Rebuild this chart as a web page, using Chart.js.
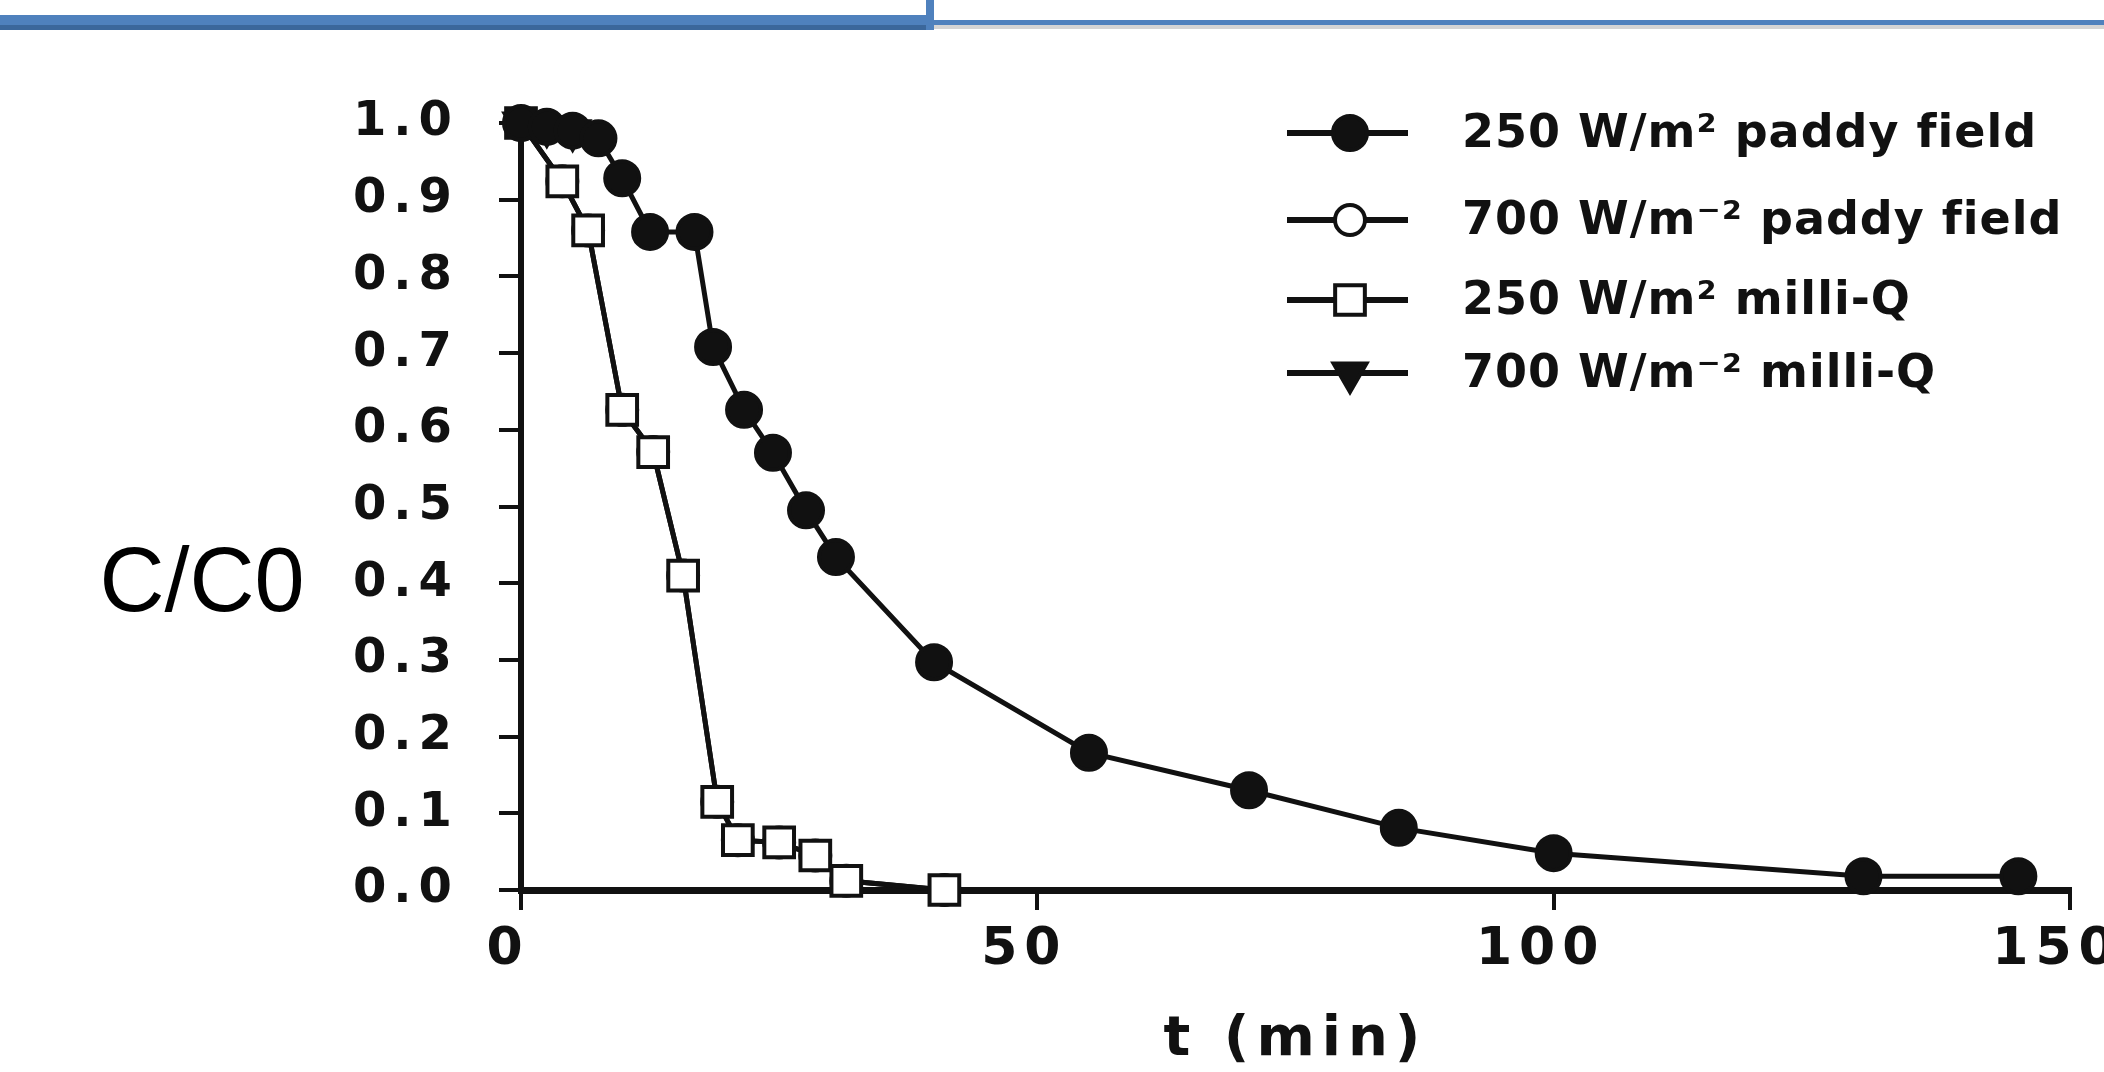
<!DOCTYPE html>
<html>
<head>
<meta charset="utf-8">
<title>C/C0 x t (min)</title>
<script src="https://cdn.jsdelivr.net/npm/chart.js@4.4.1/dist/chart.umd.min.js"></script>
<style>
    html, body { margin: 0; padding: 0; background: #fff; }
    #pagina { position: relative; width: 2104px; height: 1072px; overflow: hidden; background: #fff; }
    #grafico { position: absolute; left: 0; top: 0; }
    .faixa { position: absolute; }
</style>
</head>
<body>
<div id="pagina">
    <div class="faixa" style="left:0;top:15px;width:930px;height:10px;background:#4f81bd;"></div>
    <div class="faixa" style="left:0;top:25px;width:930px;height:5px;background:#3b679b;"></div>
    <div class="faixa" style="left:926px;top:0;width:8px;height:30px;background:#4f81bd;"></div>
    <div class="faixa" style="left:934px;top:20px;width:1170px;height:5px;background:#4f81bd;"></div>
    <div class="faixa" style="left:934px;top:25px;width:1170px;height:4px;background:#d4d4d4;"></div>
    <canvas id="grafico" width="2104" height="1072"></canvas>
</div>
<script>
// tempos (min) e C/C0
const tempoPaddy250 = [0, 2.5, 5, 7.5, 9.8, 12.5, 16.8, 18.6, 21.6, 24.4, 27.6, 30.5, 40, 55, 70.5, 85, 100, 130, 145];
const ccPaddy250 = [1.0, 0.995, 0.99, 0.98, 0.928, 0.858, 0.858, 0.708, 0.626, 0.57, 0.495, 0.434, 0.297, 0.179, 0.13, 0.081, 0.048, 0.018, 0.018];

const tempoPaddy700 = [0, 4, 6.5, 9.8, 12.8, 15.7, 19, 21, 25, 28.5, 31.5, 41];
const ccPaddy700 = [1.0, 0.924, 0.86, 0.626, 0.571, 0.41, 0.115, 0.065, 0.062, 0.045, 0.012, 0.0];

const tempoMilliQ250 = [0, 4, 6.5, 9.8, 12.8, 15.7, 19, 21, 25, 28.5, 31.5, 41];
const ccMilliQ250 = [1.0, 0.924, 0.86, 0.626, 0.571, 0.41, 0.115, 0.065, 0.062, 0.045, 0.012, 0.0];

const tempoMilliQ700 = [0, 2.5, 5];
const ccMilliQ700 = [1.0, 0.995, 0.99];

const rotulos = [
    "250 W/m\u00b2 paddy field",
    "700 W/m\u207b\u00b2 paddy field",
    "250 W/m\u00b2 milli-Q",
    "700 W/m\u207b\u00b2 milli-Q"
];
const ticksX = [0, 50, 100, 150];
const ticksY = [0, 0.1, 0.2, 0.3, 0.4, 0.5, 0.6, 0.7, 0.8, 0.9, 1.0];

const preto = "#111111";
const legendaY = [133, 220, 300, 373];

function pares(tempos, valores) {
    return tempos.map(function (t, i) {
        return { x: t, y: valores[i] };
    });
}

function serie(rotulo, tempos, valores, estilo, raio, fundo, rotacao, ordem) {
    return {
        label: rotulo,
        data: pares(tempos, valores),
        showLine: true,
        tension: 0,
        borderColor: preto,
        borderWidth: 5,
        pointStyle: estilo,
        pointRadius: raio,
        pointRotation: rotacao,
        pointBackgroundColor: fundo,
        pointBorderColor: preto,
        pointBorderWidth: 4,
        clip: false,
        order: ordem
    };
}

// texto dos eixos mais largo, como no original
const espacoLetras = {
    id: "espacoLetras",
    beforeDraw: function (chart) {
        chart.ctx.letterSpacing = "7px";
    },
    afterDraw: function (chart) {
        chart.ctx.letterSpacing = "0px";
    }
};

const legendaInterna = {
    id: "legendaInterna",
    afterDraw: function (chart) {
        const ctx = chart.ctx;
        chart.data.datasets.forEach(function (ds, i) {
            const y = legendaY[i];
            ctx.save();
            ctx.letterSpacing = "0px";
            ctx.strokeStyle = preto;
            ctx.lineWidth = 6;
            ctx.beginPath();
            ctx.moveTo(1287, y);
            ctx.lineTo(1408, y);
            ctx.stroke();

            ctx.fillStyle = ds.pointBackgroundColor;
            ctx.strokeStyle = preto;
            ctx.lineWidth = 4;
            Chart.helpers.drawPoint(ctx, {
                pointStyle: ds.pointStyle,
                rotation: ds.pointRotation,
                radius: ds.pointRadius,
                borderWidth: 4
            }, 1350, y);

            ctx.fillStyle = preto;
            ctx.font = "bold 46px 'DejaVu Sans'";
            ctx.letterSpacing = "1px";
            ctx.textAlign = "left";
            ctx.textBaseline = "middle";
            ctx.fillText(ds.label, 1462, y + 2);
            ctx.restore();
        });

        // rotulo do eixo Y, na horizontal
        ctx.save();
        ctx.letterSpacing = "0px";
        ctx.fillStyle = "#000";
        ctx.font = "90px 'Liberation Sans'";
        ctx.textAlign = "center";
        ctx.textBaseline = "middle";
        ctx.fillText("C/C0", 202, 586);
        ctx.restore();
    }
};

const ctx = document.getElementById("grafico");

new Chart(ctx, {
    type: "scatter",
    data: {
        datasets: [
            serie(rotulos[0], tempoPaddy250, ccPaddy250, "circle", 17, preto, 0, 1),
            serie(rotulos[1], tempoPaddy700, ccPaddy700, "circle", 15, "#ffffff", 0, 3),
            serie(rotulos[2], tempoMilliQ250, ccMilliQ250, "rect", 21, "#ffffff", 0, 2),
            serie(rotulos[3], tempoMilliQ700, ccMilliQ700, "triangle", 19, preto, 180, 4)
        ]
    },
    options: {
        responsive: false,
        animation: false,
        events: [],
        layout: {
            padding: { left: 0, top: 123, right: 34, bottom: 0 }
        },
        plugins: {
            legend: { display: false },
            tooltip: { enabled: false }
        },
        scales: {
            x: {
                type: "linear",
                min: 0,
                max: 150,
                afterBuildTicks: function (scale) {
                    scale.ticks = ticksX.map(function (v) { return { value: v }; });
                },
                afterFit: function (scale) {
                    scale.height = 182;
                    scale.paddingLeft = 0;
                    scale.paddingRight = 0;
                },
                border: { display: true, color: preto, width: 7 },
                grid: {
                    drawOnChartArea: false,
                    drawTicks: true,
                    tickLength: 20,
                    tickWidth: 4,
                    tickColor: preto,
                    color: preto,
                    lineWidth: 4
                },
                ticks: {
                    color: preto,
                    padding: 9,
                    labelOffset: -13,
                    maxRotation: 0,
                    font: { family: "'DejaVu Sans'", size: 52, weight: "bold" },
                    callback: function (v) { return String(v); }
                },
                title: {
                    display: true,
                    text: "t (min)",
                    color: preto,
                    font: { family: "'DejaVu Sans'", size: 56, weight: "bold", lineHeight: 1 },
                    padding: { top: 0, bottom: 4 }
                }
            },
            y: {
                type: "linear",
                min: 0,
                max: 1,
                afterBuildTicks: function (scale) {
                    scale.ticks = ticksY.map(function (v) { return { value: v }; });
                },
                afterFit: function (scale) {
                    scale.width = 521;
                    scale.paddingTop = 0;
                    scale.paddingBottom = 0;
                },
                border: { display: true, color: preto, width: 6 },
                grid: {
                    drawOnChartArea: false,
                    drawTicks: true,
                    tickLength: 22,
                    tickWidth: 4,
                    tickColor: preto,
                    color: preto,
                    lineWidth: 4
                },
                ticks: {
                    color: preto,
                    padding: 40,
                    font: { family: "'DejaVu Sans'", size: 48, weight: "bold" },
                    callback: function (v) { return Number(v).toFixed(1); }
                }
            }
        }
    },
    plugins: [espacoLetras, legendaInterna]
});
</script>
</body>
</html>
